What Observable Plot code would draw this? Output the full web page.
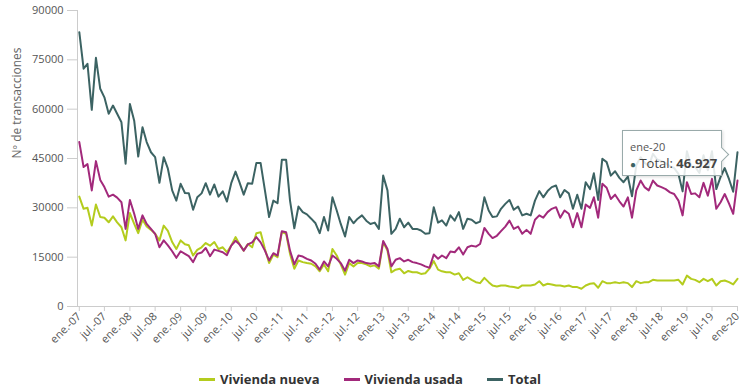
<!DOCTYPE html>
<html><head><meta charset="utf-8">
<script src="https://cdn.jsdelivr.net/npm/d3@7"></script>
<script src="https://cdn.jsdelivr.net/npm/@observablehq/plot@0.6"></script>
<style>
html,body{margin:0;padding:0;background:#fff;}
#wrap{position:relative;width:740px;height:389px;font-family:"Open Sans",sans-serif;overflow:hidden;}
#legend{position:absolute;left:0;top:369px;width:740px;height:20px;display:flex;justify-content:center;align-items:center;gap:24px;font-weight:bold;font-size:13px;color:#333;}
#legend .it{display:flex;align-items:center;gap:5px;}
#legend .sw{display:inline-block;width:16px;height:3px;}
#tip{position:absolute;width:100px;height:46px;background:rgba(255,255,255,0.86);border:1px solid #9aa;box-shadow:1px 1px 3px rgba(0,0,0,0.15);box-sizing:border-box;}
#tip .t1{position:absolute;left:7px;top:8px;font-size:11px;color:#555;}
#tip .t2{position:absolute;left:7px;top:23px;font-size:13px;color:#444;white-space:nowrap;}
#tip .arr{position:absolute;right:-6px;width:10px;height:10px;background:#fff;border-top:1px solid #9aa;border-right:1px solid #9aa;transform:rotate(45deg);}
</style></head><body><div id="wrap"></div>
<script>
const seriesNames = ["Vivienda nueva", "Vivienda usada", "Total"];
const seriesColors = ["#b4cc1e", "#a2297b", "#3c6363"];

const nueva = [
33400,29700,30000,24600,31000,27200,27000,25600,27400,25600,24100,20100,
28400,25100,22300,26400,24300,23300,22100,20100,24600,23000,19600,17500,
20100,18900,18600,15500,17200,18000,19300,18500,19600,17500,18000,16500,
18500,21100,19000,17000,19000,18000,22300,22600,17500,13200,15800,15000,
22600,22100,16000,11500,14000,13500,13200,13000,12200,10700,12800,10700,
17500,15500,12800,9700,13200,12200,13200,13200,12800,12200,12500,11500,
19600,17000,10400,11200,11500,10100,10800,10400,10400,9900,10100,11500,
13800,11200,10700,10400,10400,9700,10100,8100,8900,8100,7400,7100,
8700,7400,6400,6100,6400,6400,6100,5900,5600,6400,6400,6400,
6700,7700,6400,6900,6700,6400,6400,6100,6400,5900,5900,5400,
6400,6900,7100,5700,7700,7100,7100,7400,7100,7400,7100,5900,
7700,7100,7400,7400,8100,7900,7900,7900,7900,7900,8100,6700,
9400,8400,8100,7400,8400,7700,8400,6400,7700,7900,7400,6700,
8400];

const usada = [
50000,42400,43300,35300,44200,38500,36300,33400,34000,33100,31700,23600,
32400,28200,23600,27700,25100,23600,22100,18000,20100,18600,16800,14800,
16800,16000,15300,13500,16000,16400,17800,15300,17300,16900,16500,15600,
18500,20000,18900,17000,18900,19500,21100,19500,17000,14000,16200,15500,
22900,22600,17000,12800,15500,15200,14500,14000,13000,11200,13700,12200,
15500,14500,13200,10900,14200,13200,14000,13700,13200,13000,13200,12200,
19900,17500,12200,14200,14700,13700,14200,13500,13200,12800,12200,11800,
15800,14500,15500,14700,16700,16500,18000,15800,18000,18500,18200,19000,
23900,22100,20800,21500,22900,24300,26100,23600,24300,22100,23300,22100,
26400,27700,27000,28700,29700,30200,27000,29200,28200,24100,28400,24100,
31000,30000,33200,27000,37300,36100,32700,34000,32000,30400,33200,27000,
35300,38300,36300,35300,38300,36800,36300,35700,34700,34200,32200,27700,
37800,34200,34400,33200,37600,33700,38800,29700,31700,34200,31300,28200,
38300];

const total = [
83400,72300,73800,59800,75600,66200,63600,58600,61100,58600,56000,43400,
61600,56500,45600,54500,50000,46900,45400,37600,45400,41900,35300,32200,
37300,34500,34400,29400,33200,34400,37500,34000,37100,33400,35000,31900,
37500,41000,37800,34000,37500,37300,43600,43600,35300,27200,32200,31400,
44600,44600,32200,23800,30400,28700,28000,26700,25300,22300,27200,23100,
33200,29200,25100,21300,27200,25300,26700,27700,26100,25100,25500,23600,
39800,35300,22100,23600,26700,24100,25500,23600,23600,23100,22100,22300,
30200,25500,26200,24600,27700,26100,28700,23600,26700,26400,25300,25800,
33200,29200,27200,27400,29700,31200,32400,29400,30400,27700,28200,27700,
32200,35100,33200,35100,36300,36800,33200,35400,34400,29700,34000,29700,
37800,35700,40500,32400,44900,43900,39800,41100,39100,37800,39500,33500,
43000,45400,43700,42700,46400,44700,44200,43600,42600,42100,40300,35000,
47200,42600,42500,40600,46000,41400,47200,35700,39400,42100,38700,34900,
46927];

const xTickLabels = [
"ene.-07","jul.-07","ene.-08","jul.-08","ene.-09","jul.-09","ene.-10","jul.-10",
"ene.-11","jul.-11","ene.-12","jul.-12","ene-13","jul-13","ene-14","jul-14",
"ene-15","jul-15","ene-16","jul-16","ene-17","jul-17","ene-18","jul-18",
"ene-19","jul-19","ene-20"];
const yTicks = [0, 15000, 30000, 45000, 60000, 75000, 90000];
const yLabel = "Nº de transacciones";
const tipLabel = "ene-20";

const months = total.map((_, i) => new Date(2007, i, 1));
const data = [];
[nueva, usada, total].forEach((arr, s) =>
  arr.forEach((v, i) => data.push({date: months[i], value: v, serie: seriesNames[s]})));
const tickDates = xTickLabels.map((_, k) => new Date(2007, k * 6, 1));
const labelMap = new Map(tickDates.map((d, k) => [+d, xTickLabels[k]]));
const x0 = new Date(2006, 11, 19);

const chart = Plot.plot({
  width: 740, height: 369,
  marginLeft: 77, marginRight: 3, marginTop: 10, marginBottom: 63,
  style: {fontFamily: "'Open Sans', sans-serif", fontSize: "11px", color: "#555", background: "#fff", overflow: "visible"},
  x: {type: "time", domain: [x0, new Date(2020, 0, 1)]},
  y: {domain: [0, 90000]},
  color: {domain: seriesNames, range: seriesColors},
  marks: [
    Plot.axisY({ticks: yTicks, tickSize: 10, tickPadding: 4, tickFormat: d => String(d), label: null, stroke: "#ccc", fill: "#555"}),
    Plot.axisX({ticks: tickDates, tickFormat: d => labelMap.get(+d), tickRotate: -45, tickSize: 5, tickPadding: 3, label: null, stroke: "#ccc", fill: "#555"}),
    Plot.text([yLabel], {frameAnchor: "left", dx: -60, rotate: -90, fontSize: 12, fill: "#666"}),
    Plot.ruleX([x0], {stroke: "#ccc"}),
    Plot.ruleY([0], {stroke: "#ccc"}),
    Plot.line(data, {x: "date", y: "value", z: "serie", stroke: "serie", strokeWidth: 2})
  ]
});
const wrap = document.getElementById("wrap");
wrap.appendChild(chart);

// tooltip
const px = chart.scale("x").apply(months[months.length - 1]);
const py = chart.scale("y").apply(total[total.length - 1]);
const tip = document.createElement("div");
tip.id = "tip";
tip.style.left = (px - 115) + "px";
tip.style.top = (py - 22) + "px";
const fmt = v => d3.format(",")(v).replace(/,/g, ".");
tip.innerHTML = `<div class="arr" style="top:${18}px"></div><div class="t1">${tipLabel}</div>` +
  `<div class="t2"><span style="color:${seriesColors[2]};font-size:10px">●</span> Total: <b>${fmt(total[total.length - 1])}</b></div>`;
wrap.appendChild(tip);

// legend
const legend = document.createElement("div");
legend.id = "legend";
seriesNames.forEach((n, i) => {
  const it = document.createElement("div");
  it.className = "it";
  it.innerHTML = `<span class="sw" style="background:${seriesColors[i]}"></span><span>${n}</span>`;
  legend.appendChild(it);
});
wrap.appendChild(legend);
</script></body></html>
